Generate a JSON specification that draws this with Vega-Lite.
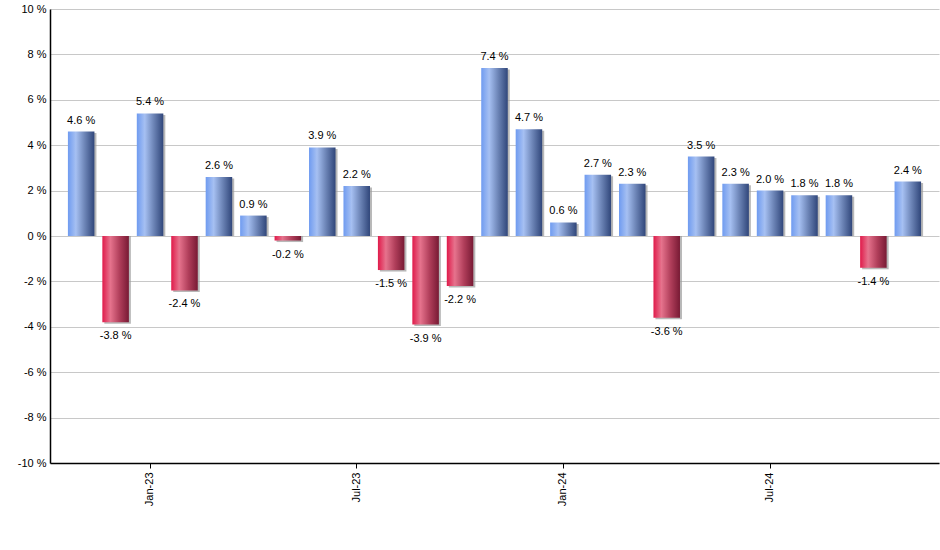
{
  "$schema": "https://vega.github.io/schema/vega-lite/v6.json",
  "width": 889,
  "height": 454,
  "autosize": {"type": "none"},
  "padding": {"left": 50, "top": 9, "right": 1, "bottom": 87},
  "background": "white",
  "config": {
    "view": {"stroke": null},
    "font": "Liberation Sans",
    "locale": {
      "number": {"decimal": ".", "thousands": ",", "grouping": [3], "currency": ["", " %"], "minus": "-"}
    },
    "axis": {"labelFont": "Liberation Sans", "labelFontSize": 11, "labelColor": "#000000"}
  },
  "data": {
    "values": [
      {"month": "Nov-22", "v": 4.6},
      {"month": "Dec-22", "v": -3.8},
      {"month": "Jan-23", "v": 5.4},
      {"month": "Feb-23", "v": -2.4},
      {"month": "Mar-23", "v": 2.6},
      {"month": "Apr-23", "v": 0.9},
      {"month": "May-23", "v": -0.2},
      {"month": "Jun-23", "v": 3.9},
      {"month": "Jul-23", "v": 2.2},
      {"month": "Aug-23", "v": -1.5},
      {"month": "Sep-23", "v": -3.9},
      {"month": "Oct-23", "v": -2.2},
      {"month": "Nov-23", "v": 7.4},
      {"month": "Dec-23", "v": 4.7},
      {"month": "Jan-24", "v": 0.6},
      {"month": "Feb-24", "v": 2.7},
      {"month": "Mar-24", "v": 2.3},
      {"month": "Apr-24", "v": -3.6},
      {"month": "May-24", "v": 3.5},
      {"month": "Jun-24", "v": 2.3},
      {"month": "Jul-24", "v": 2.0},
      {"month": "Aug-24", "v": 1.8},
      {"month": "Sep-24", "v": 1.8},
      {"month": "Oct-24", "v": -1.4},
      {"month": "Nov-24", "v": 2.4}
    ]
  },
  "encoding": {
    "x": {
      "field": "month",
      "type": "ordinal",
      "sort": null,
      "scale": {"paddingInner": 0.23, "paddingOuter": 0.52},
      "axis": {
        "title": null,
        "values": ["Jan-23", "Jul-23", "Jan-24", "Jul-24"],
        "labelAngle": -90,
        "labelAlign": "right",
        "labelBaseline": "middle",
        "domainColor": "#000000",
        "domainWidth": 1.5,
        "tickColor": "#000000",
        "tickSize": 5,
        "labelPadding": 4,
        "grid": false
      }
    },
    "y": {
      "field": "v",
      "type": "quantitative",
      "scale": {"domain": [-10, 10], "nice": false},
      "axis": {
        "title": null,
        "values": [-10, -8, -6, -4, -2, 0, 2, 4, 6, 8, 10],
        "labelExpr": "datum.value + ' %'",
        "ticks": false,
        "labelPadding": 4,
        "domainColor": "#000000",
        "domainWidth": 1.5,
        "gridColor": "#c8c8c8",
        "gridWidth": 1
      }
    }
  },
  "layer": [
    {
      "mark": {"type": "bar", "color": "#9a9a9a", "opacity": 0.7, "xOffset": 2, "yOffset": 1.5},
      "encoding": {"y2": {"datum": 0}}
    },
    {
      "transform": [{"filter": "datum.v >= 0"}],
      "mark": {
        "type": "bar",
        "color": {
          "gradient": "linear", "x1": 0, "x2": 1, "y1": 0, "y2": 0,
          "stops": [
            {"offset": 0, "color": "#6f9bf0"},
            {"offset": 0.3, "color": "#a6c0f2"},
            {"offset": 0.65, "color": "#6a82b4"},
            {"offset": 1, "color": "#30467a"}
          ]
        }
      },
      "encoding": {"y2": {"datum": 0}}
    },
    {
      "transform": [{"filter": "datum.v < 0"}],
      "mark": {
        "type": "bar",
        "color": {
          "gradient": "linear", "x1": 0, "x2": 1, "y1": 0, "y2": 0,
          "stops": [
            {"offset": 0, "color": "#e01a4a"},
            {"offset": 0.3, "color": "#e6738d"},
            {"offset": 0.65, "color": "#b03e5a"},
            {"offset": 1, "color": "#781a34"}
          ]
        }
      },
      "encoding": {"y2": {"datum": 0}}
    },
    {
      "transform": [{"filter": "datum.v >= 0"}],
      "mark": {"type": "text", "baseline": "bottom", "dy": -6, "fontSize": 11, "font": "Liberation Sans", "color": "#000000"},
      "encoding": {"text": {"field": "v", "type": "quantitative", "format": "$.1f"}}
    },
    {
      "transform": [{"filter": "datum.v < 0"}],
      "mark": {"type": "text", "baseline": "top", "dy": 8, "fontSize": 11, "font": "Liberation Sans", "color": "#000000"},
      "encoding": {"text": {"field": "v", "type": "quantitative", "format": "$.1f"}}
    }
  ]
}
